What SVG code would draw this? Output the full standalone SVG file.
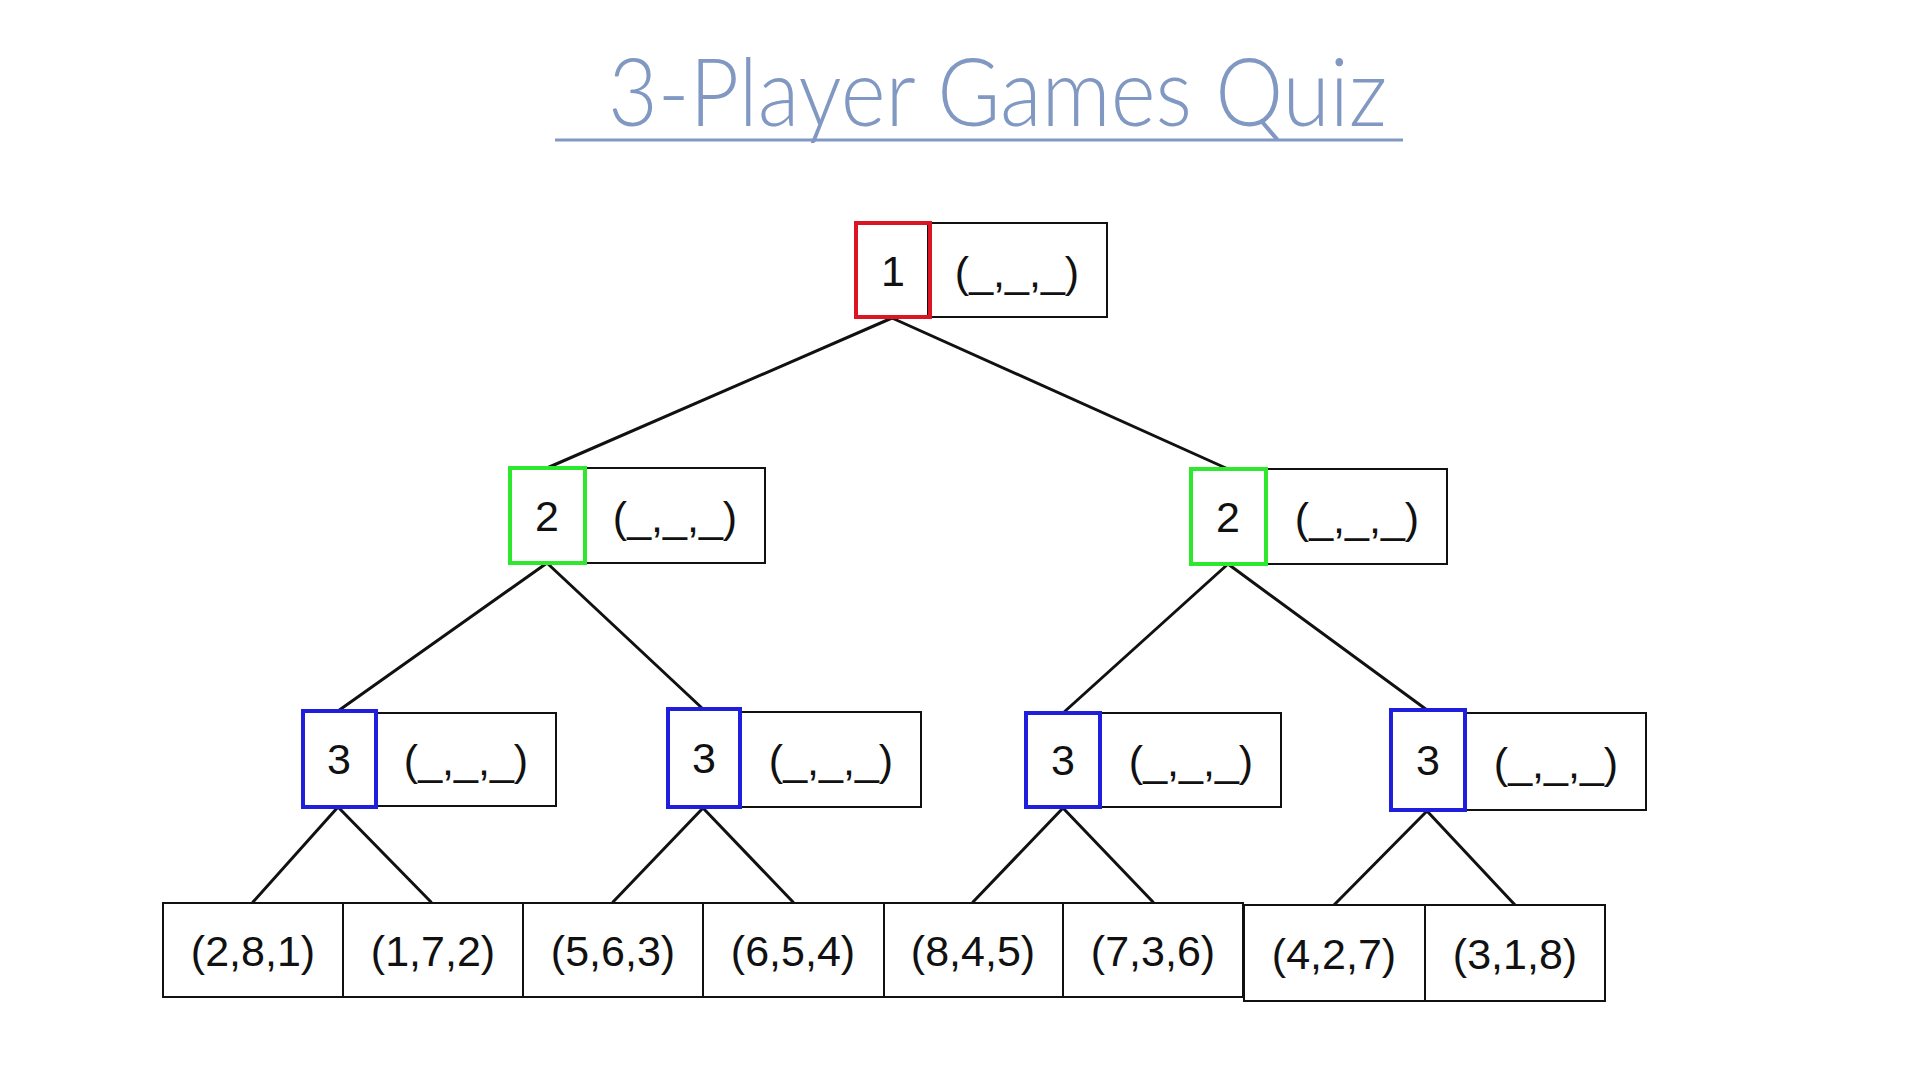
<svg xmlns="http://www.w3.org/2000/svg" width="1920" height="1080" viewBox="0 0 1920 1080">
<style>
.bx{fill:#fff;stroke:#111;stroke-width:2}
.p1{fill:none;stroke:#dc1424;stroke-width:4}
.p2{fill:none;stroke:#2ee82e;stroke-width:4}
.p3{fill:none;stroke:#1e1edc;stroke-width:4}
.t{font-family:"Liberation Sans",Arial,sans-serif;font-size:43px;fill:#111;text-anchor:middle}
.c line{stroke:#111;stroke-width:3;stroke-linecap:round}
.title{font-family:Lato,"Open Sans",sans-serif;font-weight:300;font-size:94px;fill:#8098c2}
</style>
<rect width="1920" height="1080" fill="#fff"/>
<g id="title">
<text class="title" x="608" y="126" textLength="779" lengthAdjust="spacingAndGlyphs">3-Player Games Quiz</text>
<line x1="555" y1="140" x2="1403" y2="140" stroke="#8098c2" stroke-width="3"/>
</g>
<g id="connectors" class="c">
<line x1="892" y1="318" x2="547" y2="468"/>
<line x1="892" y1="318" x2="1228" y2="469"/>
<line x1="547" y1="563" x2="338" y2="711"/>
<line x1="547" y1="563" x2="703" y2="709"/>
<line x1="1228" y1="564" x2="1063" y2="713"/>
<line x1="1228" y1="564" x2="1427" y2="710"/>
<line x1="338" y1="807" x2="253" y2="902"/>
<line x1="338" y1="807" x2="431" y2="902"/>
<line x1="703" y1="808" x2="613" y2="902"/>
<line x1="703" y1="808" x2="793" y2="902"/>
<line x1="1063" y1="808" x2="973" y2="902"/>
<line x1="1063" y1="808" x2="1153" y2="902"/>
<line x1="1427" y1="811" x2="1334" y2="905"/>
<line x1="1427" y1="811" x2="1515" y2="905"/>
</g>
<g id="root">
<rect class="bx" x="928" y="223" width="179" height="94"/>
<rect class="p1" x="856" y="223" width="74" height="94"/>
<text class="t" x="893" y="286">1</text>
<text class="t" x="1017" y="287">(_,_,_)</text>
</g>
<g id="p2-left">
<rect class="bx" x="585" y="468" width="180" height="95"/>
<rect class="p2" x="510" y="468" width="75" height="95"/>
<text class="t" x="547" y="531">2</text>
<text class="t" x="675" y="532">(_,_,_)</text>
</g>
<g id="p2-right">
<rect class="bx" x="1267" y="469" width="180" height="95"/>
<rect class="p2" x="1191" y="469" width="75" height="95"/>
<text class="t" x="1228" y="532">2</text>
<text class="t" x="1357" y="533">(_,_,_)</text>
</g>
<g id="p3-a">
<rect class="bx" x="376" y="713" width="180" height="93"/>
<rect class="p3" x="303" y="711" width="73" height="96"/>
<text class="t" x="339" y="774">3</text>
<text class="t" x="466" y="775">(_,_,_)</text>
</g>
<g id="p3-b">
<rect class="bx" x="740" y="712" width="181" height="95"/>
<rect class="p3" x="668" y="709" width="72" height="98"/>
<text class="t" x="704" y="773">3</text>
<text class="t" x="831" y="775">(_,_,_)</text>
</g>
<g id="p3-c">
<rect class="bx" x="1100" y="713" width="181" height="94"/>
<rect class="p3" x="1026" y="713" width="74" height="94"/>
<text class="t" x="1063" y="775">3</text>
<text class="t" x="1191" y="776">(_,_,_)</text>
</g>
<g id="p3-d">
<rect class="bx" x="1465" y="713" width="181" height="97"/>
<rect class="p3" x="1391" y="710" width="74" height="100"/>
<text class="t" x="1428" y="775">3</text>
<text class="t" x="1556" y="778">(_,_,_)</text>
</g>
<g id="leaf1"><rect class="bx" x="163" y="903" width="180" height="94"/><text class="t" x="253" y="966">(2,8,1)</text></g>
<g id="leaf2"><rect class="bx" x="343" y="903" width="180" height="94"/><text class="t" x="433" y="966">(1,7,2)</text></g>
<g id="leaf3"><rect class="bx" x="523" y="903" width="180" height="94"/><text class="t" x="613" y="966">(5,6,3)</text></g>
<g id="leaf4"><rect class="bx" x="703" y="903" width="181" height="94"/><text class="t" x="793" y="966">(6,5,4)</text></g>
<g id="leaf5"><rect class="bx" x="884" y="903" width="179" height="94"/><text class="t" x="973" y="966">(8,4,5)</text></g>
<g id="leaf6"><rect class="bx" x="1063" y="903" width="180" height="94"/><text class="t" x="1153" y="966">(7,3,6)</text></g>
<g id="leaf7"><rect class="bx" x="1244" y="905" width="181" height="96"/><text class="t" x="1334" y="969">(4,2,7)</text></g>
<g id="leaf8"><rect class="bx" x="1425" y="905" width="180" height="96"/><text class="t" x="1515" y="969">(3,1,8)</text></g>
</svg>
